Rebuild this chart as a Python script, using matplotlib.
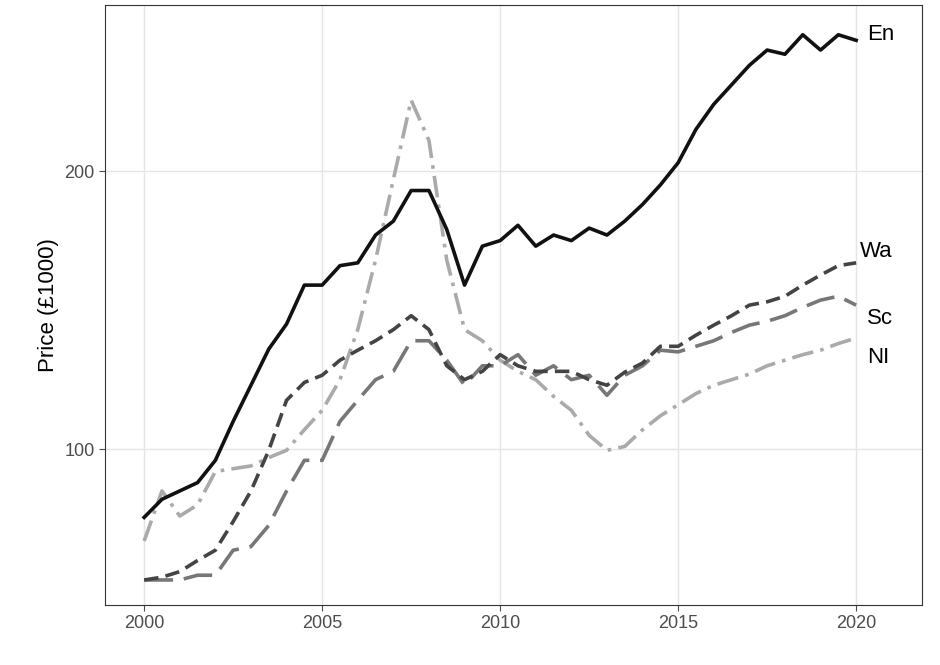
import matplotlib
matplotlib.use("Agg")
import matplotlib.pyplot as plt
plt.rcParams['font.family'] = ['Liberation Sans', 'DejaVu Sans']

years = [2000,2000.5,2001,2001.5,2002,2002.5,2003,2003.5,2004,2004.5,2005,2005.5,2006,2006.5,2007,2007.5,2008,2008.5,2009,2009.5,2010,2010.5,2011,2011.5,2012,2012.5,2013,2013.5,2014,2014.5,2015,2015.5,2016,2016.5,2017,2017.5,2018,2018.5,2019,2019.5,2020]
en = [75.5,82,85,88,96,110,123,136,145,159,159,166,167,177,182,193,193,179,159,173,175,180.5,173,177,175,179.5,177,182,188,195,203,215,224,231,238,243.5,242,249,243.5,249,247]
ni = [67,85,76,80,92,93,94,97,99.6,107,114,125,143,168,197,225.5,211,168,143,139,132,128,125,119,114,105,99.6,101,107,112,116,120,123,125,127,130,132,134,135.6,138,140]
wa = [53,54,56,60,63.7,74,85,99.6,117.6,124,126.6,132,135.6,139,143,148,143,130,125,128,134,130,128,128,128,125,123,127.7,131,137,137,141,144.6,148,151.8,153,155,159,162.6,166,167]
sc = [53,53,53,54.7,54.7,63.7,65,72.6,85,96,96,110,117.6,125,128,139,139,132,123,130,130,134,126.6,130,125,126.6,119.4,126.6,130,135.6,135,137,139,142,144.6,146,148,151,153.6,155,151.8]

fig = plt.figure(figsize=(9.4, 6.65), dpi=100)
ax = fig.add_axes([105/940, 60/665, 817/940, 600/665])
ax.plot(years, ni, color="#aaaaaa", lw=2.6, ls=(0, (6, 2, 1, 2)))
ax.plot(years, sc, color="#777777", lw=2.6, ls=(0, (8, 3)))
ax.plot(years, wa, color="#444444", lw=2.6, ls=(0, (4, 2)))
ax.plot(years, en, color="#111111", lw=2.6)
for t, y in [("En", 249), ("Wa", 171), ("Sc", 147), ("NI", 133)]:
    ax.text(2020.3 if t != "Wa" else 2020.1, y, t, fontsize=16, va="center", ha="left")
ax.set_xlim(1998.9, 2021.85)
ax.set_ylim(44, 259.7)
ax.set_xticks([2000, 2005, 2010, 2015, 2020])
ax.set_yticks([100, 200])
ax.grid(color="#e5e5e5", lw=1)
ax.set_axisbelow(True)
for s in ax.spines.values():
    s.set_color("#333333"); s.set_linewidth(0.8)
ax.tick_params(labelsize=13, colors="#4d4d4d", length=4)
ax.set_ylabel("Price (£1000)", fontsize=16)
fig.savefig("out.png", dpi=100)
